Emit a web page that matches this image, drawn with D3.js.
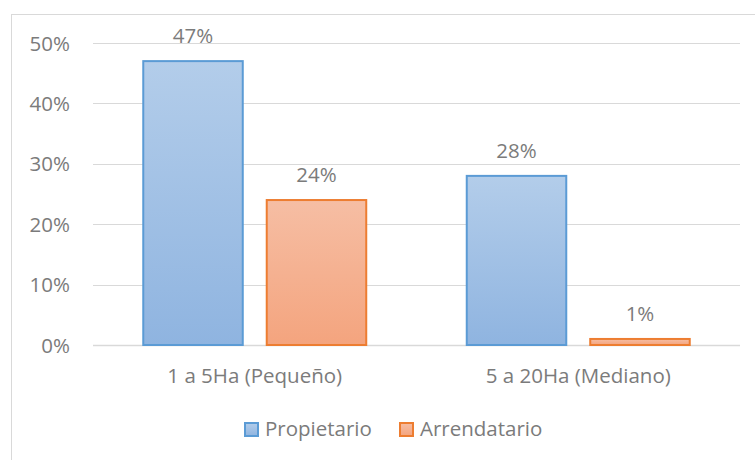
<!DOCTYPE html>
<html>
<head>
<meta charset="utf-8">
<script src="https://cdn.jsdelivr.net/npm/d3@7"></script>
<style>
  body { margin: 0; background: #fff; }
  text { font-family: "Open Sans", "Noto Sans", sans-serif; fill: #7b7b7b; }
</style>
</head>
<body>
<svg id="chart" width="755" height="460"></svg>
<script>
    var categories = ['1 a 5Ha (Pequeño)', '5 a 20Ha (Mediano)'];
    var seriesNames = ['Propietario', 'Arrendatario'];
    var propietario = [0.47, 0.28];
    var arrendatario = [0.24, 0.01];
    var yTicks = [0, 0.1, 0.2, 0.3, 0.4, 0.5];

    var colors = {
        Propietario: { stroke: '#5b9bd5', top: '#b3cdea', bottom: '#8fb4e0' },
        Arrendatario: { stroke: '#ed7d31', top: '#f6bea4', bottom: '#f4a47e' }
    };

    var fontSize = 20.5;

    var rows = categories.map(function (c, i) {
        return { cat: c, values: [
            { key: 'Propietario', value: propietario[i] },
            { key: 'Arrendatario', value: arrendatario[i] }
        ] };
    });

    var svg = d3.select('#chart');

    // chart frame (runs off the right and bottom)
    svg.append('rect')
        .attr('x', 11.5).attr('y', 14.5)
        .attr('width', 800).attr('height', 500)
        .attr('fill', 'none')
        .attr('stroke', '#d9d9d9');

    var defs = svg.append('defs');
    seriesNames.forEach(function (s) {
        var g = defs.append('linearGradient')
            .attr('id', 'grad-' + s)
            .attr('x1', 0).attr('y1', 0).attr('x2', 0).attr('y2', 1);
        g.append('stop').attr('offset', '0%').attr('stop-color', colors[s].top);
        g.append('stop').attr('offset', '100%').attr('stop-color', colors[s].bottom);
    });

    var plotLeft = 93, plotRight = 740, plotTop = 43, plotBottom = 345;

    var yScale = d3.scaleLinear().domain([0, 0.5]).range([plotBottom, plotTop]);

    var x0 = d3.scaleBand()
        .domain(categories)
        .range([plotLeft, plotRight])
        .paddingInner(0.3076)
        .paddingOuter(0.1538);

    var x1 = d3.scaleBand()
        .domain(seriesNames)
        .range([0, x0.bandwidth()])
        .paddingInner(0.186);

    // gridlines
    svg.append('g').selectAll('line')
        .data(yTicks)
        .enter().append('line')
        .attr('x1', plotLeft).attr('x2', plotRight)
        .attr('y1', function (d) { return Math.round(yScale(d)) + 0.5; })
        .attr('y2', function (d) { return Math.round(yScale(d)) + 0.5; })
        .attr('stroke', '#d9d9d9')
        .attr('stroke-width', function (d) { return d === 0 ? 1.5 : 1; });

    var yAxis = d3.axisLeft(yScale)
        .tickValues(yTicks)
        .tickFormat(d3.format('.0%'))
        .tickSize(0)
        .tickPadding(0);

    var yg = svg.append('g')
        .attr('transform', 'translate(70,0)')
        .call(yAxis);
    yg.select('.domain').remove();
    yg.selectAll('text')
        .attr('font-size', fontSize)
        .attr('font-family', null)
        .attr('dy', '0.35em');

    // bars
    var groups = svg.append('g').selectAll('g')
        .data(rows)
        .enter().append('g')
        .attr('transform', function (d) { return 'translate(' + x0(d.cat) + ',0)'; });

    var bars = groups.selectAll('g.bar')
        .data(function (d) { return d.values; })
        .enter().append('g')
        .classed('bar', true);

    bars.append('rect')
        .attr('x', function (d) { return x1(d.key) + 0.5; })
        .attr('y', function (d) { return yScale(d.value); })
        .attr('width', x1.bandwidth() - 1)
        .attr('height', function (d) { return yScale(0) - yScale(d.value); })
        .attr('fill', function (d) { return 'url(#grad-' + d.key + ')'; })
        .attr('stroke', function (d) { return colors[d.key].stroke; })
        .attr('stroke-width', 2);

    bars.append('text')
        .attr('x', function (d) { return x1(d.key) + x1.bandwidth() / 2; })
        .attr('y', function (d) { return yScale(d.value) - 18; })
        .attr('text-anchor', 'middle')
        .attr('font-size', fontSize)
        .text(function (d) { return d3.format('.0%')(d.value); });

    // category axis
    var xAxis = d3.axisBottom(x0).tickSize(0).tickPadding(0);
    var xg = svg.append('g')
        .attr('transform', 'translate(0,' + 383 + ')')
        .call(xAxis);
    xg.select('.domain').remove();
    xg.selectAll('text')
        .attr('font-size', fontSize)
        .attr('font-family', null)
        .attr('dy', 0);

    // legend
    var legendX = [244, 399];
    var legend = svg.append('g').selectAll('g')
        .data(seriesNames)
        .enter().append('g')
        .attr('transform', function (d, i) { return 'translate(' + legendX[i] + ',422)'; });

    legend.append('rect')
        .attr('x', 1).attr('y', 1)
        .attr('width', 13).attr('height', 13)
        .attr('fill', function (d) { return 'url(#grad-' + d + ')'; })
        .attr('stroke', function (d) { return colors[d].stroke; })
        .attr('stroke-width', 2);

    legend.append('text')
        .attr('x', 21)
        .attr('y', 14)
        .attr('font-size', fontSize)
        .text(function (d) { return d; });
</script>
</body>
</html>
